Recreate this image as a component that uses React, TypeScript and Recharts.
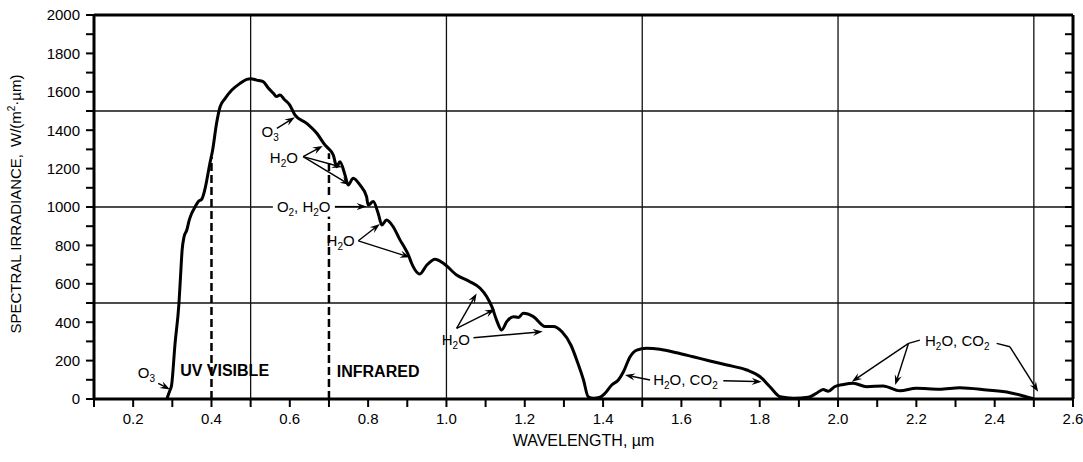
import React from 'react'
import { LineChart, Line, XAxis, YAxis, ReferenceLine, ReferenceDot } from 'recharts'

const FONT = '"Liberation Sans", Arial, Helvetica, sans-serif'

// wavelength, µm
const wavelength = [
  0.286, 0.293, 0.298, 0.307, 0.317, 0.321, 0.325, 0.33, 0.337, 0.343,
  0.349, 0.358, 0.367, 0.375, 0.383, 0.396, 0.403, 0.413, 0.422, 0.435,
  0.452, 0.473, 0.49, 0.5, 0.515, 0.532, 0.545, 0.558, 0.566, 0.575,
  0.586, 0.6, 0.613, 0.643, 0.669, 0.69, 0.698, 0.711, 0.72, 0.728,
  0.741, 0.749, 0.762, 0.779, 0.796, 0.8, 0.813, 0.826, 0.835, 0.847,
  0.864, 0.881, 0.894, 0.903, 0.911, 0.92, 0.932, 0.95, 0.971, 0.992,
  1.026, 1.06, 1.086, 1.103, 1.116, 1.128, 1.141, 1.154, 1.171, 1.184,
  1.196, 1.222, 1.252, 1.273, 1.295, 1.318, 1.335, 1.35, 1.362, 1.375,
  1.392, 1.405, 1.422, 1.439, 1.452, 1.469, 1.486, 1.511, 1.545, 1.588,
  1.63, 1.673, 1.716, 1.767, 1.801, 1.826, 1.852, 1.886, 1.924, 1.945,
  1.962, 1.975, 1.991, 2.014, 2.039, 2.073, 2.115, 2.158, 2.2, 2.259,
  2.311, 2.38, 2.439, 2.473, 2.494, 2.5,
]

// spectral irradiance, W/(m2·µm)
const irradiance = [
  0, 40, 70, 290, 500, 640, 775, 845, 880, 930,
  965, 1000, 1030, 1040, 1090, 1228, 1297, 1436, 1522, 1566,
  1609, 1644, 1665, 1668, 1661, 1653, 1620, 1592, 1575, 1583,
  1560, 1531, 1480, 1436, 1384, 1323, 1306, 1271, 1210, 1236,
  1167, 1115, 1150, 1115, 1054, 1010, 1028, 965, 906, 932,
  897, 830, 785, 750, 707, 672, 651, 698, 728, 707,
  646, 611, 577, 533, 481, 411, 359, 403, 429, 425,
  446, 429, 377, 377, 350, 280, 190, 99, 12, 4,
  9, 30, 73, 99, 142, 220, 255, 264, 259, 241,
  220, 198, 177, 151, 116, 64, 12, 4, 9, 30,
  50, 40, 64, 76, 82, 64, 68, 43, 56, 51,
  59, 47, 33, 16, 4, 0,
]

const xTicks = [
  0.1, 0.2, 0.3, 0.4, 0.5, 0.6, 0.7, 0.8, 0.9, 1.0, 1.1, 1.2, 1.3,
  1.4, 1.5, 1.6, 1.7, 1.8, 1.9, 2.0, 2.1, 2.2, 2.3, 2.4, 2.5, 2.6,
]
const yTicks = [
  0, 100, 200, 300, 400, 500, 600, 700, 800, 900, 1000,
  1100, 1200, 1300, 1400, 1500, 1600, 1700, 1800, 1900, 2000,
]
const gridX = [0.5, 1.0, 1.5, 2.0, 2.5]
const gridY = [500, 1000, 1500]

// band boundaries (dashed) and band names
const bandEdges = [
  { x: 0.4, top: 1260 },
  { x: 0.7, top: 1280 },
]
const bandNames = [
  { text: 'UV VISIBLE', at: [0.32, 150] },
  { text: 'INFRARED', at: [0.72, 148] },
]

// absorber captions, "_x" = subscript
const absorbers = [
  { text: 'O_3', at: [0.212, 138] },
  { text: 'O_3', at: [0.528, 1395] },
  { text: 'H_2O', at: [0.549, 1259] },
  { text: 'H_2O', at: [0.694, 824] },
  { text: 'H_2O', at: [0.988, 310] },
  { text: 'H_2O, CO_2', at: [1.528, 104] },
  { text: 'H_2O, CO_2', at: [2.222, 303] },
]
const boxedAbsorbers = [{ text: 'O_2, H_2O', at: [0.567, 1002] }]

// leader arrows: from -> to (wavelength, irradiance)
const arrows = [
  { from: [0.264, 82], to: [0.294, 50], head: true },
  { from: [0.567, 1410], to: [0.613, 1467], head: true },
  { from: [0.634, 1262], to: [0.684, 1318], head: true },
  { from: [0.634, 1262], to: [0.733, 1207], head: true },
  { from: [0.634, 1262], to: [0.754, 1115], head: true },
  { from: [0.715, 1002], to: [0.796, 1002], head: true },
  { from: [0.775, 824], to: [0.83, 911], head: true },
  { from: [0.775, 824], to: [0.907, 738], head: true },
  { from: [1.026, 368], to: [1.077, 550], head: true },
  { from: [1.026, 368], to: [1.124, 467], head: true },
  { from: [1.069, 319], to: [1.246, 351], head: true },
  { from: [1.52, 99], to: [1.456, 125], head: true },
  { from: [1.707, 95], to: [1.805, 90], head: true },
  { from: [2.209, 307], to: [2.18, 290], head: false },
  { from: [2.18, 290], to: [2.035, 90], head: true },
  { from: [2.18, 290], to: [2.146, 73], head: true },
  { from: [2.405, 290], to: [2.439, 272], head: false },
  { from: [2.439, 272], to: [2.511, 38], head: true },
]

const data = wavelength.map((wl, i) => ({ wl, irr: irradiance[i] }))

const richText = (s: string, subSize: number) => {
  const parts = s.split(/(_.)/).filter(Boolean)
  let shift = 0
  return parts.map((p, i) => {
    const isSub = p[0] === '_'
    const target = isSub ? 4 : 0
    const dy = target - shift
    shift = target
    return (
      <tspan key={i} dy={dy} fontSize={isSub ? subSize : undefined}>
        {isSub ? p.slice(1) : p}
      </tspan>
    )
  })
}

const Arrow = (props: any) => {
  const { x1, y1, x2, y2, head } = props
  const dx = x2 - x1
  const dy = y2 - y1
  const len = Math.hypot(dx, dy) || 1
  const ux = dx / len
  const uy = dy / len
  const L = 10
  const W = 3.6
  const bx = x2 - ux * L
  const by = y2 - uy * L
  const nx = x2 - ux * L * 0.65
  const ny = y2 - uy * L * 0.65
  return (
    <g>
      <line x1={x1} y1={y1} x2={head ? nx : x2} y2={head ? ny : y2} stroke="#000" strokeWidth={1.4} />
      {head && (
        <path
          d={`M${x2},${y2} L${bx - uy * W},${by + ux * W} L${nx},${ny} L${bx + uy * W},${by - ux * W} Z`}
          fill="#000"
        />
      )}
    </g>
  )
}

const Caption = (props: any) => {
  const { cx, cy, text, bold, boxed } = props
  const fs = bold ? 16 : 15
  return (
    <g>
      {boxed && <rect x={cx - 4} y={cy - 10} width={62} height={20} fill="#fff" />}
      <text
        x={cx}
        y={cy + (bold ? 6 : 5.5)}
        fontFamily={FONT}
        fontSize={fs}
        fontWeight={bold ? 'bold' : 'normal'}
        fill="#000"
      >
        {richText(text, 10)}
      </text>
    </g>
  )
}

const YTitle = (props: any) => {
  const vb = props.viewBox || { y: 15, height: 384 }
  const cy = vb.y + vb.height / 2 - 3
  return (
    <text
      x={21}
      y={cy}
      transform={`rotate(-90, 21, ${cy})`}
      textAnchor="middle"
      fontFamily={FONT}
      fontSize={15}
      fill="#000"
    >
      SPECTRAL IRRADIANCE,
      <tspan dx={7}>W/(m</tspan>
      <tspan dy={-6} fontSize={10}>2</tspan>
      <tspan dy={6}>·µm)</tspan>
    </text>
  )
}

const XTitle = (props: any) => {
  const vb = props.viewBox || { x: 94, y: 399, width: 979 }
  return (
    <text
      x={vb.x + vb.width / 2}
      y={vb.y + 47}
      textAnchor="middle"
      fontFamily={FONT}
      fontSize={16}
      fill="#000"
    >
      WAVELENGTH, µm
    </text>
  )
}

const tickStyle = { fill: '#000', fontSize: 15, fontFamily: FONT }

const App = () => {
  return (
    <div style={{ position: 'absolute', left: 0, top: 0, background: '#fff' }}>
      <LineChart
        width={1083}
        height={462}
        data={data}
        margin={{ top: 15, right: 10, left: 0, bottom: 0 }}
      >
        {gridX.map((v) => (
          <ReferenceLine key={'gx' + v} x={v} stroke="#111" strokeWidth={1.3} />
        ))}
        {gridY.map((v) => (
          <ReferenceLine key={'gy' + v} y={v} stroke="#111" strokeWidth={1.3} />
        ))}
        {bandEdges.map((b) => (
          <ReferenceLine
            key={'be' + b.x}
            segment={[{ x: b.x, y: 0 }, { x: b.x, y: b.top }]}
            stroke="#000"
            strokeWidth={2.5}
            strokeDasharray="8 4"
          />
        ))}
        {boxedAbsorbers.map((c, i) => (
          <ReferenceDot
            key={'bx' + i}
            x={c.at[0]}
            y={c.at[1]}
            shape={(p: any) => <Caption {...p} text={c.text} boxed />}
          />
        ))}
        <Line
          type="monotone"
          dataKey="irr"
          stroke="#000"
          strokeWidth={3}
          dot={false}
          activeDot={false}
          isAnimationActive={false}
        />
        {arrows.map((a, i) => (
          <ReferenceLine
            key={'ar' + i}
            segment={[{ x: a.from[0], y: a.from[1] }, { x: a.to[0], y: a.to[1] }]}
            shape={(p: any) => <Arrow {...p} head={a.head} />}
          />
        ))}
        {absorbers.map((c, i) => (
          <ReferenceDot
            key={'ab' + i}
            x={c.at[0]}
            y={c.at[1]}
            shape={(p: any) => <Caption {...p} text={c.text} />}
          />
        ))}
        {bandNames.map((c, i) => (
          <ReferenceDot
            key={'bn' + i}
            x={c.at[0]}
            y={c.at[1]}
            shape={(p: any) => <Caption {...p} text={c.text} bold />}
          />
        ))}
        <ReferenceLine y={2000} stroke="#000" strokeWidth={3} />
        <XAxis
          dataKey="wl"
          type="number"
          domain={[0.1, 2.6]}
          allowDataOverflow
          ticks={xTicks}
          interval={0}
          height={63}
          tickSize={8}
          tickMargin={6}
          tick={tickStyle}
          tickFormatter={(v: number) => (Math.round(v * 10) % 2 === 0 ? v.toFixed(1) : '')}
          axisLine={{ stroke: '#000', strokeWidth: 3 }}
          tickLine={{ stroke: '#000', strokeWidth: 2 }}
          label={XTitle}
        />
        <YAxis
          type="number"
          domain={[0, 2000]}
          allowDataOverflow
          ticks={yTicks}
          interval={0}
          width={94}
          tickSize={8}
          tickMargin={6}
          tick={tickStyle}
          tickFormatter={(v: number) => (v % 200 === 0 ? String(v) : '')}
          axisLine={{ stroke: '#000', strokeWidth: 3 }}
          tickLine={{ stroke: '#000', strokeWidth: 2 }}
          label={YTitle}
        />
        <YAxis
          yAxisId="r"
          orientation="right"
          type="number"
          domain={[0, 2000]}
          allowDataOverflow
          ticks={yTicks}
          interval={0}
          width={10}
          mirror
          tickSize={8}
          tickFormatter={() => ''}
          axisLine={{ stroke: '#000', strokeWidth: 3 }}
          tickLine={{ stroke: '#000', strokeWidth: 2 }}
        />
      </LineChart>
    </div>
  )
}

export default App
